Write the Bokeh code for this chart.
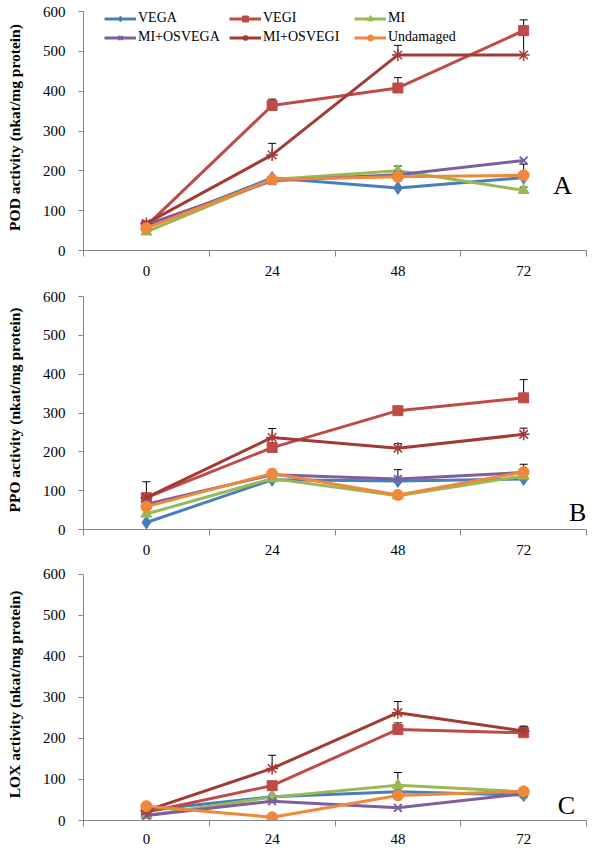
from bokeh.plotting import figure
from bokeh.layouts import column
from bokeh.models import Range1d, FixedTicker, Legend, LegendItem, Label
from bokeh.embed import file_html
from bokeh.resources import INLINE

# ---------------- data ----------------
hours = ["0", "24", "48", "72"]
series = ["VEGA", "VEGI", "MI", "MI+OSVEGA", "MI+OSVEGI", "Undamaged"]
y_ticks = [0, 100, 200, 300, 400, 500, 600]

# POD activity (panel A)
pod_vega = [58, 182, 157, 183]
pod_vegi = [62, 364, 408, 552]
pod_mi = [47, 178, 200, 151]
pod_mi_osvega = [65, 175, 190, 226]
pod_mi_osvegi = [68, 240, 491, 491]
pod_undamaged = [56, 178, 185, 189]
pod_vega_err = [0, 0, 18, 0]
pod_vegi_err = [0, 16, 26, 27]
pod_mi_err = [0, 0, 12, 8]
pod_mi_osvega_err = [0, 0, 0, 0]
pod_mi_osvegi_err = [0, 29, 24, 50]
pod_undamaged_err = [0, 0, 0, 28]

# PPO activity (panel B)
ppo_vega = [18, 128, 125, 130]
ppo_vegi = [82, 211, 306, 339]
ppo_mi = [40, 131, 87, 138]
ppo_mi_osvega = [65, 141, 130, 147]
ppo_mi_osvegi = [82, 237, 209, 245]
ppo_undamaged = [59, 144, 89, 148]
ppo_vega_err = [0, 0, 0, 0]
ppo_vegi_err = [41, 0, 0, 47]
ppo_mi_err = [0, 0, 0, 0]
ppo_mi_osvega_err = [0, 0, 24, 0]
ppo_mi_osvegi_err = [0, 23, 12, 16]
ppo_undamaged_err = [0, 0, 0, 20]

# LOX activity (panel C)
lox_vega = [25, 58, 70, 62]
lox_vegi = [20, 85, 222, 214]
lox_mi = [12, 57, 86, 70]
lox_mi_osvega = [12, 47, 31, 65]
lox_mi_osvegi = [24, 127, 263, 218]
lox_undamaged = [35, 8, 61, 71]
lox_vega_err = [0, 0, 0, 0]
lox_vegi_err = [0, 0, 16, 14]
lox_mi_err = [0, 0, 31, 0]
lox_mi_osvega_err = [0, 0, 0, 0]
lox_mi_osvegi_err = [0, 32, 27, 12]
lox_undamaged_err = [0, 0, 0, 0]

# ---------------- styles ----------------
STY = {
    "VEGA": dict(color="#4A7EBB", marker="diamond", size=13, lw=1),
    "VEGI": dict(color="#BE4B48", marker="square", size=10, lw=1),
    "MI": dict(color="#98B954", marker="triangle", size=11, lw=1),
    "MI+OSVEGA": dict(color="#7D5FA0", marker="x", size=11, lw=2),
    "MI+OSVEGI": dict(color="#A23A36", marker="asterisk", size=12, lw=1.5),
    "Undamaged": dict(color="#F0883C", marker="circle", size=11, lw=1),
}
SERIF = "Liberation Serif"
AXIS_COLOR = "#868686"


def make_panel(vals, errs, ylabel, letter, letter_xy, width, height,
               bl, br, bt, bb, yend, xstand, legend=False):
    xs = [i + 0.5 for i in range(len(hours))]
    p = figure(width=width, height=height, output_backend="svg",
               toolbar_location=None,
               x_range=Range1d(0, len(hours)), y_range=Range1d(0, yend),
               min_border_left=bl, min_border_right=br,
               min_border_top=bt, min_border_bottom=bb)
    p.outline_line_color = None
    p.grid.visible = False
    p.background_fill_color = "white"

    # x axis: labels at category centres, ticks at category boundaries
    xa = p.xaxis[0]
    xa.ticker = FixedTicker(ticks=xs, minor_ticks=list(range(len(hours) + 1)))
    xa.major_label_overrides = {x: h for x, h in zip(xs, hours)}
    xa.major_tick_out = 0
    xa.major_tick_in = 0
    xa.minor_tick_out = 6
    xa.minor_tick_in = 0
    xa.minor_tick_line_color = AXIS_COLOR
    xa.axis_line_color = AXIS_COLOR
    xa.major_label_standoff = xstand
    xa.major_label_text_font = SERIF
    xa.major_label_text_font_size = "15px"
    xa.major_label_text_color = "black"

    ya = p.yaxis[0]
    ya.ticker = FixedTicker(ticks=y_ticks, minor_ticks=[])
    ya.bounds = (y_ticks[0], y_ticks[-1])
    ya.major_tick_out = 5
    ya.major_tick_in = 0
    ya.major_tick_line_color = AXIS_COLOR
    ya.axis_line_color = AXIS_COLOR
    ya.major_label_standoff = 13
    ya.major_label_text_font = SERIF
    ya.major_label_text_font_size = "15px"
    ya.major_label_text_color = "black"
    ya.axis_label = ylabel
    ya.axis_label_text_font = SERIF
    ya.axis_label_text_font_style = "bold"
    ya.axis_label_text_font_size = "15.5px"
    ya.axis_label_text_color = "black"
    ya.axis_label_standoff = 17

    # error bars (upper only)
    for name in series:
        ex = [x for x, e in zip(xs, errs[name]) if e > 0]
        y0 = [v for v, e in zip(vals[name], errs[name]) if e > 0]
        y1 = [v + e for v, e in zip(vals[name], errs[name]) if e > 0]
        if ex:
            p.segment(x0=ex, y0=y0, x1=ex, y1=y1, line_color="black", line_width=1)
            p.scatter(ex, y1, marker="dash", size=8, line_color="black", line_width=1)

    items = []
    for name in series:
        s = STY[name]
        rl = p.line(xs, vals[name], line_color=s["color"], line_width=3)
        rm = p.scatter(xs, vals[name], marker=s["marker"], size=s["size"],
                       fill_color=s["color"], line_color=s["color"],
                       line_width=s["lw"])
        items.append(LegendItem(label=name, renderers=[rl, rm]))

    if legend:
        lg = Legend(items=items, orientation="horizontal", ncols=3,
                    location=(21, 205),
                    margin=0, padding=0, spacing=3,
                    glyph_width=32, glyph_height=15, label_height=15,
                    label_width=88, label_standoff=2,
                    label_text_font=SERIF, label_text_font_size="14px",
                    label_text_color="black",
                    border_line_color=None, background_fill_alpha=0)
        p.add_layout(lg)

    p.add_layout(Label(x=letter_xy[0], y=letter_xy[1], text=letter,
                       text_font=SERIF, text_font_size="26px",
                       text_color="black", text_align="center",
                       text_baseline="middle"))
    return p


pod_vals = dict(zip(series, [pod_vega, pod_vegi, pod_mi, pod_mi_osvega, pod_mi_osvegi, pod_undamaged]))
pod_errs = dict(zip(series, [pod_vega_err, pod_vegi_err, pod_mi_err, pod_mi_osvega_err, pod_mi_osvegi_err, pod_undamaged_err]))
ppo_vals = dict(zip(series, [ppo_vega, ppo_vegi, ppo_mi, ppo_mi_osvega, ppo_mi_osvegi, ppo_undamaged]))
ppo_errs = dict(zip(series, [ppo_vega_err, ppo_vegi_err, ppo_mi_err, ppo_mi_osvega_err, ppo_mi_osvegi_err, ppo_undamaged_err]))
lox_vals = dict(zip(series, [lox_vega, lox_vegi, lox_mi, lox_mi_osvega, lox_mi_osvegi, lox_undamaged]))
lox_errs = dict(zip(series, [lox_vega_err, lox_vegi_err, lox_mi_err, lox_mi_osvega_err, lox_mi_osvegi_err, lox_undamaged_err]))

pa = make_panel(pod_vals, pod_errs, "POD activity (nkat/mg protein)", "A", (3.81, 163),
                598, 282, 80, 9, 4, 32, 617.6, 9, legend=True)
pb = make_panel(ppo_vals, ppo_errs, "PPO activity (nkat/mg protein)", "B", (3.93, 44),
                598, 278, 80, 12, 8, 31, 615.5, 9)
pc = make_panel(lox_vals, lox_errs, "LOX activity (nkat/mg protein)", "C", (3.84, 36),
                598, 286, 83, 3, 8, 24, 614.5, 7)

layout = column(pa, pb, pc, spacing=0)
open("out.html", "w").write(file_html(layout, INLINE))
